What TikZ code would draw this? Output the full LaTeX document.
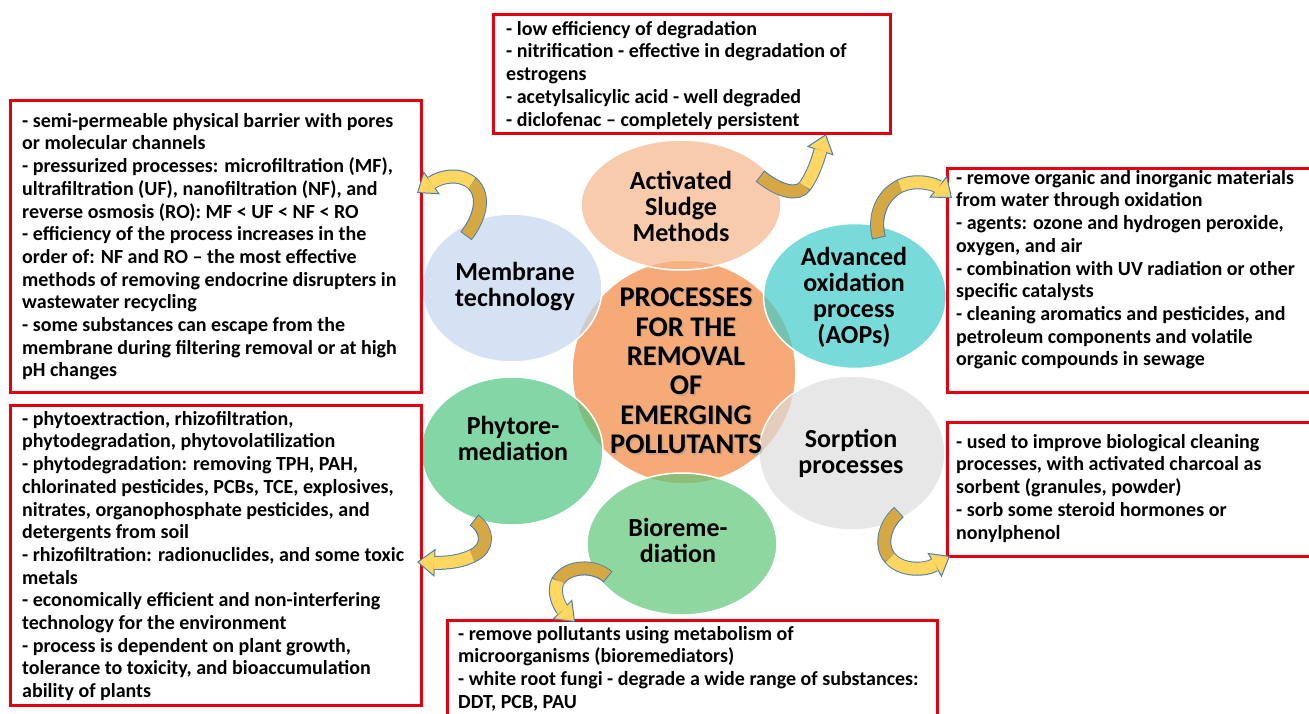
\documentclass[tikz,border=0pt]{standalone}
\usepackage{fontspec}
\setmainfont{Carlito}
\usetikzlibrary{shapes.geometric,arrows.meta}
\definecolor{boxred}{HTML}{E3000F}
\definecolor{centerc}{HTML}{F6AA78}
\definecolor{actc}{HTML}{F6B58A}
\definecolor{memc}{HTML}{C4D7EE}
\definecolor{advc}{HTML}{41CDCA}
\definecolor{sorc}{HTML}{DDDDDD}
\definecolor{bioc}{HTML}{5FC77A}
\definecolor{phyc}{HTML}{4FC781}
\definecolor{golddark}{HTML}{D5A843}
\definecolor{goldlight}{HTML}{FFD65F}
\definecolor{arrowblue}{HTML}{4A7FB0}
\tikzset{
  redbox/.style={draw=boxred, line width=3pt},
  boxtext/.style={font=\bfseries\fontsize{20}{22.7}\selectfont, align=left, inner sep=0pt, anchor=north west, text=black},
  blob/.style={ellipse, draw=white, line width=1.5pt, fill opacity=0.7, draw opacity=1},
  blobtext/.style={font=\bfseries\fontsize{26}{26}\selectfont, align=center, inner sep=0pt, text=black},
  ctrtext/.style={font=\bfseries\fontsize{28.5}{29.5}\selectfont, align=center, inner sep=0pt},
  bandout/.style={line width=14pt, draw=arrowblue, -{Triangle[length=18pt,width=28pt,fill=goldlight,color=arrowblue,line width=1pt]}},
  banddark/.style={line width=12pt, draw=golddark, shorten <=1pt},
  bandlight/.style={line width=12pt, draw=goldlight, shorten >=17pt},
}
\begin{document}
\begin{tikzpicture}[x=1pt,y=-1pt]
\useasboundingbox (0,0) rectangle (1309,713);
\fill[white] (0,0) rectangle (1309,713);

% central circle
\node[circle, fill=centerc, draw=white, line width=1.5pt, minimum size=224pt] (ctr) at (684,372) {};

% surrounding ellipses
\node[blob, fill=actc, minimum width=200pt, minimum height=130pt] (act) at (681,205) {};
\node[blob, fill=memc, minimum width=180pt, minimum height=148pt] (mem) at (512,288) {};
\node[blob, fill=advc, minimum width=183pt, minimum height=145pt] (adv) at (855,296) {};
\node[blob, fill=sorc, minimum width=186pt, minimum height=154pt] (sor) at (852,453) {};
\node[blob, fill=bioc, minimum width=190pt, minimum height=142pt] (bio) at (682,544) {};
\node[blob, fill=phyc, minimum width=182pt, minimum height=148pt] (phy) at (512,451) {};

% ellipse labels
\node[blobtext] (actl) at (681,206) {Activated\\Sludge\\Methods};
\node[blobtext] (meml) at (515,287) {Membrane\\technology};
\node[blobtext] (advl) at (854,297) {Advanced\\oxidation\\process\\(AOPs)};
\node[blobtext] (sorl) at (851,453) {Sorption\\processes};
\node[blobtext] (phyl) at (513,438) {Phytore-\\mediation};
\node[blobtext] (biol) at (678,540) {Bioreme-\\diation};

% central label with shadow
\node[ctrtext, text=black!40, text opacity=0.45] (ctrs) at (687.5,372.5) {PROCESSES\\FOR THE\\REMOVAL\\OF\\EMERGING\\POLLUTANTS};
\node[ctrtext, text=black] (ctrl) at (686,371) {PROCESSES\\FOR THE\\REMOVAL\\OF\\EMERGING\\POLLUTANTS};

% boxes
\draw[redbox] (493,14) rectangle (890,133);
\draw[redbox] (10,100) rectangle (421,392);
\draw[redbox] (947,168) rectangle (1315,392);
\draw[redbox] (10,405) rectangle (421,705);
\draw[redbox] (947,422) rectangle (1315,556);
\draw[redbox] (447,620) rectangle (937,720);

\node[boxtext] (t1) at (506,21) {- low efficiency of degradation\\- nitrification - effective in degradation of\\estrogens\\- acetylsalicylic acid - well degraded\\- diclofenac – completely persistent};
\node[boxtext] (t2) at (22,113) {- semi-permeable physical barrier with pores\\or molecular channels\\- pressurized processes: microfiltration (MF),\\ultrafiltration (UF), nanofiltration (NF), and\\reverse osmosis (RO): MF < UF < NF < RO\\- efficiency of the process increases in the\\order of: NF and RO – the most effective\\methods of removing endocrine disrupters in\\wastewater recycling\\- some substances can escape from the\\membrane during filtering removal or at high\\pH changes};
\node[boxtext] (t3) at (956,170) {- remove organic and inorganic materials\\from water through oxidation\\- agents: ozone and hydrogen peroxide,\\oxygen, and air\\- combination with UV radiation or other\\specific catalysts\\- cleaning aromatics and pesticides, and\\petroleum components and volatile\\organic compounds in sewage};
\node[boxtext] (t4) at (22,411) {- phytoextraction, rhizofiltration,\\phytodegradation, phytovolatilization\\- phytodegradation: removing TPH, PAH,\\chlorinated pesticides, PCBs, TCE, explosives,\\nitrates, organophosphate pesticides, and\\detergents from soil\\- rhizofiltration: radionuclides, and some toxic\\metals\\- economically efficient and non-interfering\\technology for the environment\\- process is dependent on plant growth,\\tolerance to toxicity, and bioaccumulation\\ability of plants};
\node[boxtext] (t5) at (956,434) {- used to improve biological cleaning\\processes, with activated charcoal as\\sorbent (granules, powder)\\- sorb some steroid hormones or\\nonylphenol};
\node[boxtext] (t6) at (458,626) {- remove pollutants using metabolism of\\microorganisms (bioremediators)\\- white root fungi - degrade a wide range of substances:\\DDT, PCB, PAU};

% arrow coordinates
\coordinate (a1t) at (760,176); \coordinate (a1m) at (805,186); \coordinate (a1h) at (826,134);
\coordinate (a2t) at (466,236); \coordinate (a2m) at (472,183); \coordinate (a2h) at (417,193);
\coordinate (a3t) at (879,238); \coordinate (a3m) at (900,186); \coordinate (a3h) at (952,198);
\coordinate (a4t) at (899,512); \coordinate (a4m) at (890,558); \coordinate (a4h) at (950,556);
\coordinate (a5t) at (474,520); \coordinate (a5m) at (472,556); \coordinate (a5h) at (417,562);
\coordinate (a6t) at (608,577); \coordinate (a6m) at (558,581); \coordinate (a6h) at (575,622);

% arrow 1
\draw[bandout] (a1t) .. controls (780,192) and (798,196) .. (a1m) .. controls (815,172) and (820,152) .. (a1h);
\draw[banddark] (a1t) .. controls (780,192) and (798,196) .. (a1m);
\draw[bandlight] (a1m) .. controls (815,172) and (820,152) .. (a1h);
% arrow 2
\draw[bandout] (a2t) .. controls (480,218) and (486,196) .. (a2m) .. controls (458,172) and (440,177) .. (a2h);
\draw[banddark] (a2t) .. controls (480,218) and (486,196) .. (a2m);
\draw[bandlight] (a2m) .. controls (458,172) and (440,177) .. (a2h);
% arrow 3
\draw[bandout] (a3t) .. controls (873,216) and (882,195) .. (a3m) .. controls (918,178) and (936,185) .. (a3h);
\draw[banddark] (a3t) .. controls (873,216) and (882,195) .. (a3m);
\draw[bandlight] (a3m) .. controls (918,178) and (936,185) .. (a3h);
% arrow 4
\draw[bandout] (a4t) .. controls (885,524) and (879,545) .. (a4m) .. controls (902,572) and (926,570) .. (a4h);
\draw[banddark] (a4t) .. controls (885,524) and (879,545) .. (a4m);
\draw[bandlight] (a4m) .. controls (902,572) and (926,570) .. (a4h);
% arrow 5
\draw[bandout] (a5t) .. controls (488,530) and (490,548) .. (a5m) .. controls (458,563) and (440,563) .. (a5h);
\draw[banddark] (a5t) .. controls (488,530) and (490,548) .. (a5m);
\draw[bandlight] (a5m) .. controls (458,563) and (440,563) .. (a5h);
% arrow 6
\draw[bandout] (a6t) .. controls (595,565) and (568,565) .. (a6m) .. controls (552,592) and (560,607) .. (a6h);
\draw[banddark] (a6t) .. controls (595,565) and (568,565) .. (a6m);
\draw[bandlight] (a6m) .. controls (552,592) and (560,607) .. (a6h);
\end{tikzpicture}
\end{document}
